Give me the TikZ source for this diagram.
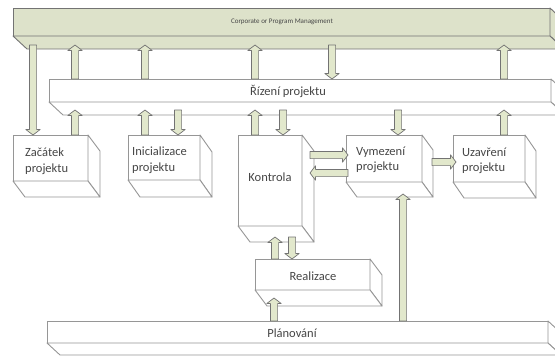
\documentclass[tikz,border=0pt]{standalone}
\usepackage{fontspec}
\setmainfont{Carlito}
\usetikzlibrary{calc}

\definecolor{barfill}{RGB}{221,226,202}
\definecolor{arrowfill}{RGB}{226,232,204}
\definecolor{linegray}{RGB}{150,150,150}
\definecolor{darkline}{RGB}{115,115,115}
\definecolor{txt}{RGB}{70,70,70}

\tikzset{
  wface/.style={draw=linegray, line width=0.9pt, line join=round, fill=white},
  gface/.style={draw=darkline, line width=0.9pt, line join=round, fill=barfill},
  blk/.style={draw=darkline, fill=arrowfill, line width=0.7pt, line join=round},
  lbl/.style={font=\fontsize{12.5}{15.5}\selectfont, text=txt, inner sep=0pt, align=left},
}

% a box seen from below: front face plus right and bottom faces
% #1 name, #2 style, #3 x, #4 y, #5 width, #6 height, #7 dx, #8 dy
\newcommand\cuboid[8]{%
  \node[#2, anchor=north west, inner sep=0pt, outer sep=0pt,
        minimum width=#5pt, minimum height=#6pt] (#1) at (#3,#4) {};
  \draw[#2] (#1.north east) -- ++(#7,#8) -- ($(#1.south east)+(#7,#8)$)
            -- (#1.south east) -- cycle;
  \draw[#2] (#1.south west) -- (#1.south east) -- ($(#1.south east)+(#7,#8)$)
            -- ($(#1.south west)+(#7,#8)$) -- cycle;
}

% fat block arrow from #1 to the tip at #2
\newcommand\blockarrow[2]{%
  \coordinate (hb) at ($(#2)!5.5pt!(#1)$);
  \draw[blk] ($(#1)!3.6pt!90:(#2)$) -- ($(hb)!3.6pt!-90:(#1)$)
     -- ($(hb)!7.2pt!-90:(#1)$) -- (#2) -- ($(hb)!7.2pt!90:(#1)$)
     -- ($(hb)!3.6pt!90:(#1)$) -- ($(#1)!3.6pt!-90:(#2)$) -- cycle;
}

\begin{document}
\begin{tikzpicture}[x=1pt,y=-1pt]
\useasboundingbox (0,0) rectangle (555,356);
\clip (0,0) rectangle (555,356);

% bars
\cuboid{cpm}{gface}{13}{8}{537}{28}{14}{13}
\cuboid{riz}{wface}{49}{79}{502}{23}{14}{13}
\cuboid{plan}{wface}{47}{321}{501}{22}{13}{12}

% process boxes
\cuboid{zac}{wface}{13}{135}{75}{46}{12}{16}
\cuboid{ini}{wface}{128}{135}{72}{45}{12}{17}
\cuboid{kon}{wface}{238}{135}{64}{91}{12}{16}
\cuboid{rea}{wface}{255}{259}{115}{31}{12}{16}
\cuboid{vym}{wface}{346}{135}{76}{47}{11}{15}
\cuboid{uza}{wface}{453}{135}{72}{47}{11}{16}

% texts
\node[lbl, font=\fontsize{7}{8}\selectfont] (t-cpm) at (282,22) {Corporate or Program Management};
\node[lbl] (t-riz) at (288,91) {Řízení projektu};
\node[lbl] (t-plan) at (292,333) {Plánování};
\node[lbl, anchor=west] (t-zac) at (25,161) {Začátek\\projektu};
\node[lbl, anchor=west] (t-ini) at (132,160) {Inicializace\\projektu};
\node[lbl] (t-kon) at (270,177) {Kontrola};
\node[lbl, anchor=west] (t-vym) at (356,160) {Vymezení\\projektu};
\node[lbl, anchor=west] (t-uza) at (462,161) {Uzavření\\projektu};
\node[lbl] (t-rea) at (313,276) {Realizace};

% levels inside the lower faces of the bars
\coordinate (cpmLow) at (0,45);
\coordinate (rizLow) at (0,110);

% between the management bar and project control
\blockarrow{33,0 |- cpmLow}{33,0 |- zac.north}
\blockarrow{75,0 |- riz.north}{75,0 |- cpmLow}
\blockarrow{145,0 |- riz.north}{145,0 |- cpmLow}
\blockarrow{255,0 |- riz.north}{255,0 |- cpmLow}
\blockarrow{332,0 |- cpmLow}{332,0 |- riz.north}
\blockarrow{504,0 |- riz.north}{504,0 |- cpmLow}

% between project control and the process boxes
\blockarrow{75,0 |- zac.north}{75,0 |- rizLow}
\blockarrow{145,0 |- ini.north}{145,0 |- rizLow}
\blockarrow{178,0 |- rizLow}{178,0 |- ini.north}
\blockarrow{255,0 |- kon.north}{255,0 |- rizLow}
\blockarrow{283,0 |- rizLow}{283,0 |- kon.north}
\blockarrow{398,0 |- rizLow}{398,0 |- vym.north}
\blockarrow{504,0 |- uza.north}{504,0 |- rizLow}

% between the process boxes
\coordinate (konR) at (310,0);
\coordinate (vymL) at (348,0);
\blockarrow{konR |- 0,155}{vymL |- 0,155}
\blockarrow{vymL |- 0,173}{konR |- 0,173}
\coordinate (vymR) at (432,0);
\coordinate (uzaL) at (456,0);
\blockarrow{vymR |- 0,162}{uzaL |- 0,162}

\coordinate (konLow) at (0,237);
\blockarrow{275,0 |- rea.north}{275,0 |- konLow}
\blockarrow{292,0 |- konLow}{292,0 |- rea.north}

\coordinate (reaLow) at (0,298);
\coordinate (vymLow) at (0,194);
\blockarrow{274,0 |- plan.north}{274,0 |- reaLow}
\blockarrow{403,0 |- plan.north}{403,0 |- vymLow}
\end{tikzpicture}
\end{document}
